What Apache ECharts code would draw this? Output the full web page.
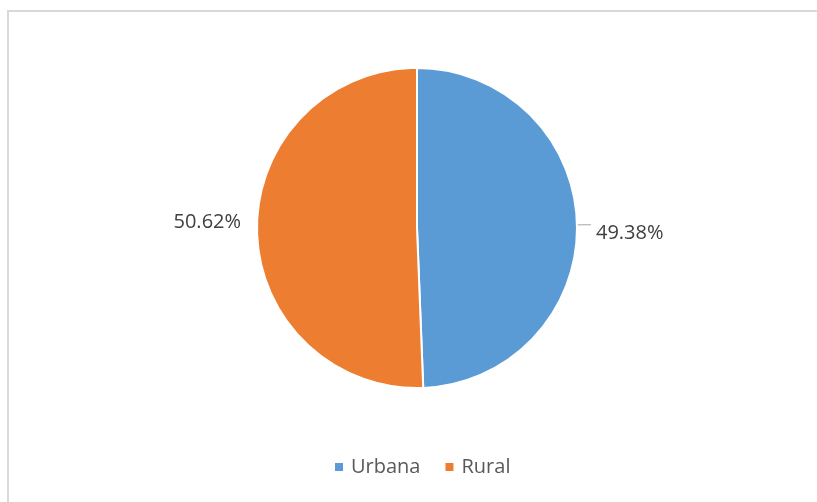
<!DOCTYPE html>
<html>
<head>
<meta charset="utf-8">
<script src="https://cdn.jsdelivr.net/npm/echarts@6/dist/echarts.min.js"></script>
<style>
html,body{margin:0;padding:0;background:#fff;overflow:hidden;width:817px;height:502px;}
#frame{position:absolute;left:7px;top:10px;width:900px;height:600px;border-left:2px solid #d9d9d9;border-top:2px solid #d9d9d9;box-sizing:border-box;}
#chart{position:absolute;left:0;top:0;width:817px;height:502px;}
</style>
</head>
<body>
<div id="frame"></div>
<div id="chart"></div>
<script>
const categories = ['Urbana', 'Rural'];
const values = [49.38, 50.62];
const colors = ['#5B9BD5', '#ED7D31'];
const labelShift = [[0, 9], [3, -9]];

const chart = echarts.init(document.getElementById('chart'), null, {renderer: 'canvas'});
const data = categories.map((c, i) => ({
  name: c,
  value: values[i],
  itemStyle: {color: colors[i]},
  labelLine: i === 0 ? {show: true, length: 6, length2: 8} : {show: false, length: 6, length2: 8}
}));
chart.setOption({
  animation: false,
  backgroundColor: 'transparent',
  legend: {
    bottom: 20,
    left: 328,
    icon: 'rect',
    itemWidth: 10,
    itemHeight: 10,
    itemGap: 23,
    textStyle: {fontFamily: 'Open Sans', fontSize: 20, color: '#595959', padding: [0, 0, 0, 2]},
    data: categories
  },
  series: [{
    type: 'pie',
    center: [417, 228],
    radius: [0, 160],
    startAngle: 90,
    clockwise: true,
    itemStyle: {borderColor: '#fff', borderWidth: 2},
    label: {
      show: true,
      position: 'outside',
      formatter: p => p.value.toFixed(2) + '%',
      fontFamily: 'Open Sans',
      fontSize: 20,
      color: '#404040'
    },
    labelLine: {lineStyle: {color: '#a6a6a6', width: 1}},
    labelLayout: p => ({dx: labelShift[p.dataIndex][0], dy: labelShift[p.dataIndex][1]}),
    data: data
  }]
});
</script>
</body>
</html>
